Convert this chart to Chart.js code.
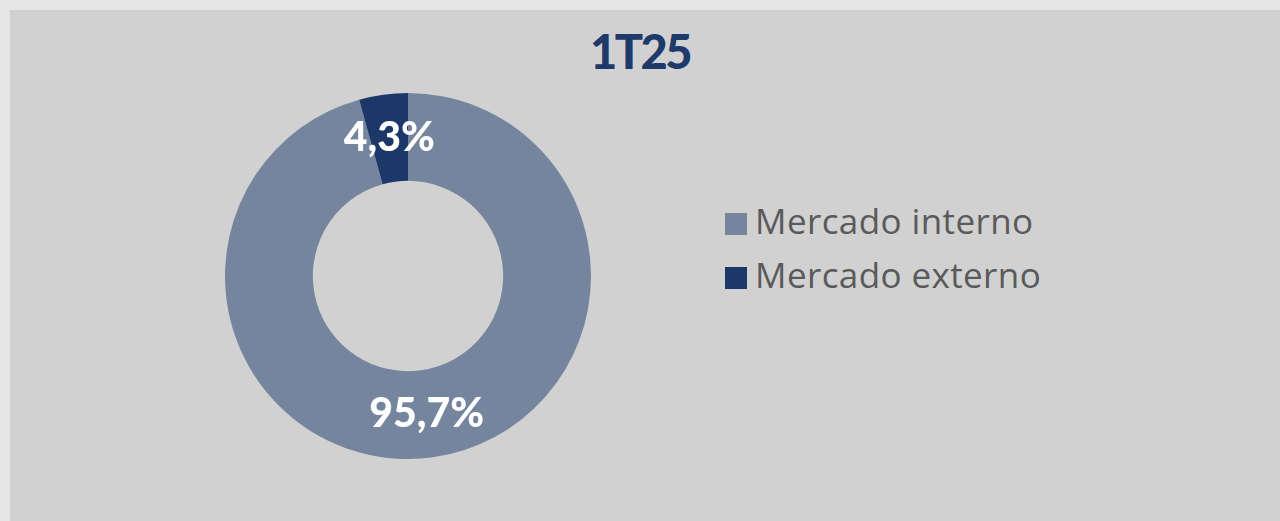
<!DOCTYPE html>
<html lang="pt">
<head>
<meta charset="utf-8">
<title>1T25</title>
<script src="https://cdn.jsdelivr.net/npm/chart.js@4"></script>
<style>
  html, body {
    margin: 0;
    padding: 0;
    width: 1280px;
    height: 521px;
    background: #e6e6e6;
    overflow: hidden;
    font-family: Lato, "Noto Sans", sans-serif;
  }
  #panel {
    position: absolute;
    left: 10px;
    top: 10px;
    right: 0;
    bottom: 0;
    background: #d1d1d1;
  }
  #title {
    position: absolute;
    left: 0;
    top: 23px;
    width: 1280px;
    text-align: center;
    font-size: 47px;
    line-height: 1.2;
    font-weight: 900;
    letter-spacing: -2.5px;
    color: #1d3a6b;
  }
  #chartWrap {
    position: absolute;
    left: 225px;
    top: 93px;
    width: 366px;
    height: 366px;
  }
  #legend {
    position: absolute;
    left: 725px;
    top: 194px;
  }
  .legend-item {
    position: relative;
    height: 53.5px;
    line-height: 53.5px;
    font-family: "Open Sans", Lato, sans-serif;
    font-size: 35px;
    letter-spacing: 0.4px;
    color: #5a5a5a;
    white-space: nowrap;
  }
  .legend-box {
    position: absolute;
    left: 0;
    top: 19px;
    width: 22px;
    height: 22px;
  }
  .legend-text {
    position: absolute;
    left: 30px;
    top: 0;
  }
</style>
</head>
<body>
<div id="panel"></div>
<div id="title">1T25</div>
<div id="chartWrap"><canvas id="donutChart"></canvas></div>
<div id="legend"></div>

<script>
// data
const periodTitle = '1T25';
const categories = ['Mercado interno', 'Mercado externo'];
const shares = [95.7, 4.3];
const sliceColors = ['#75859e', '#1b3868'];

// writes the % value on each slice, at the arc centroid
const sliceLabels = {
    id: 'sliceLabels',
    afterDatasetsDraw(chart) {
        const ctx = chart.ctx;
        const meta = chart.getDatasetMeta(0);
        ctx.save();
        ctx.fillStyle = '#ffffff';
        ctx.font = '900 41px Lato, "Noto Sans", sans-serif';
        ctx.textAlign = 'center';
        ctx.textBaseline = 'middle';
        meta.data.forEach((arc, i) => {
            const pos = arc.tooltipPosition();
            const txt = shares[i].toFixed(1).replace('.', ',') + '%';
            ctx.fillText(txt, pos.x, pos.y);
        });
        ctx.restore();
    }
};

document.getElementById('title').textContent = periodTitle;

const chart = new Chart(document.getElementById('donutChart'), {
    type: 'doughnut',
    data: {
        labels: categories,
        datasets: [{
            data: shares,
            backgroundColor: sliceColors,
            borderWidth: 0
        }]
    },
    options: {
        responsive: true,
        maintainAspectRatio: false,
        animation: false,
        cutout: '52%',
        layout: { padding: 0 },
        plugins: {
            legend: { display: false },
            tooltip: { enabled: false }
        }
    },
    plugins: [sliceLabels]
});

// html legend built from the chart data
const legendEl = document.getElementById('legend');
chart.data.labels.forEach((label, i) => {
    const item = document.createElement('div');
    item.className = 'legend-item';
    const box = document.createElement('span');
    box.className = 'legend-box';
    box.style.background = chart.data.datasets[0].backgroundColor[i];
    const text = document.createElement('span');
    text.className = 'legend-text';
    text.textContent = label;
    item.appendChild(box);
    item.appendChild(text);
    legendEl.appendChild(item);
});
</script>
</body>
</html>
